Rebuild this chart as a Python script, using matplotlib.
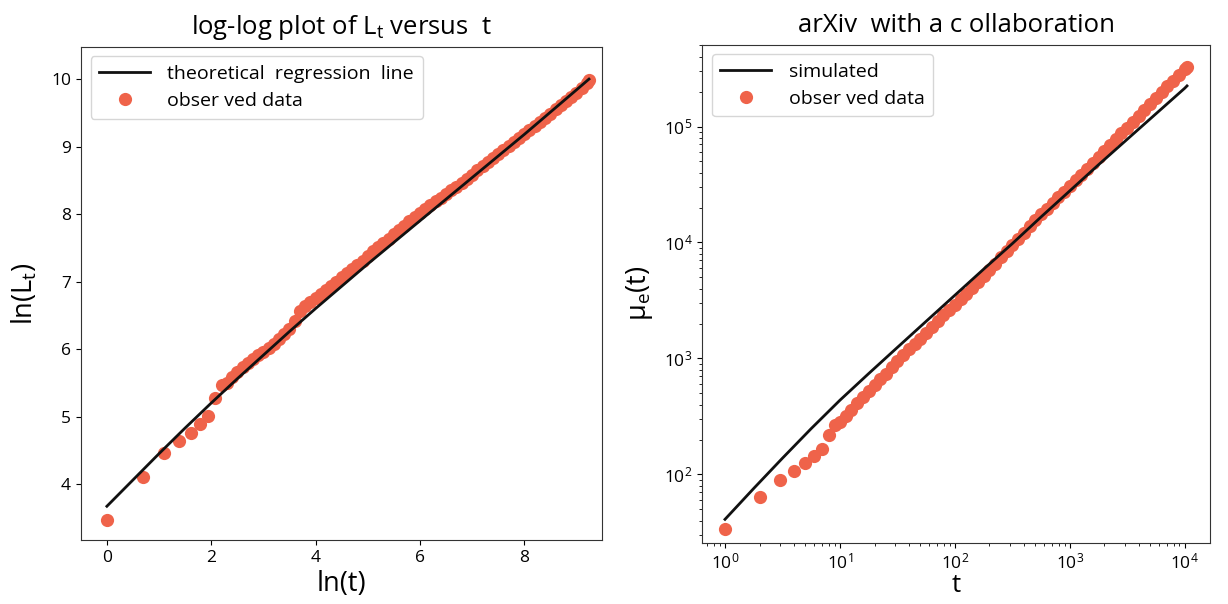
import numpy as np
import matplotlib
matplotlib.use("Agg")
import matplotlib.pyplot as plt

plt.rcParams['font.family'] = ['Open Sans', 'DejaVu Sans']
plt.rcParams['mathtext.default'] = 'regular'

# ---------------- left panel data (ln t, ln L_t) ----------------
left_obs_x = [0.000, 0.693, 1.099, 1.386, 1.609, 1.792, 1.946, 2.079, 2.197, 2.303,
              2.40, 2.50, 2.60, 2.70, 2.80, 2.90, 3.00, 3.10, 3.20, 3.30, 3.40, 3.50,
              3.60, 3.70, 3.80, 3.90, 4.00, 4.10, 4.20, 4.30, 4.40, 4.50, 4.60, 4.70,
              4.80, 4.90, 5.00, 5.10, 5.20, 5.30, 5.40, 5.50, 5.60, 5.70, 5.80, 5.90,
              6.00, 6.10, 6.20, 6.30, 6.40, 6.50, 6.60, 6.70, 6.80, 6.90, 7.00, 7.10,
              7.20, 7.30, 7.40, 7.50, 7.60, 7.70, 7.80, 7.90, 8.00, 8.10, 8.20, 8.30,
              8.40, 8.50, 8.60, 8.70, 8.80, 8.90, 9.00, 9.10, 9.20, 9.24]
left_obs_y = [3.46, 4.10, 4.46, 4.64, 4.76, 4.89, 5.01, 5.28, 5.46, 5.50,
              5.58, 5.66, 5.73, 5.79, 5.85, 5.91, 5.96, 6.02, 6.08, 6.15, 6.22, 6.30,
              6.42, 6.56, 6.64, 6.70, 6.76, 6.82, 6.88, 6.94, 7.00, 7.07, 7.13, 7.19,
              7.25, 7.31, 7.38, 7.45, 7.51, 7.57, 7.63, 7.70, 7.76, 7.82, 7.89, 7.95,
              8.01, 8.07, 8.13, 8.19, 8.24, 8.30, 8.35, 8.40, 8.46, 8.52, 8.58, 8.65,
              8.71, 8.77, 8.83, 8.89, 8.95, 9.01, 9.07, 9.13, 9.19, 9.25, 9.31, 9.37,
              9.43, 9.49, 9.56, 9.62, 9.68, 9.74, 9.80, 9.87, 9.94, 9.98]
left_line_x = [0.0, 0.5, 1.0, 1.5, 2.0, 2.5, 3.0, 3.5, 4.0, 4.5, 5.0, 5.5, 6.0,
               6.5, 7.0, 7.5, 8.0, 8.5, 9.0, 9.24]
left_line_y = [3.67, 4.06, 4.45, 4.83, 5.20, 5.56, 5.91, 6.26, 6.60, 6.93, 7.26,
               7.58, 7.90, 8.22, 8.54, 8.86, 9.18, 9.51, 9.84, 10.00]

# ---------------- right panel data (t, log10 mu_e(t)) ----------------
right_obs_t = [1, 2, 3, 4, 5, 6, 7, 8, 9,
               10, 11.2, 12.6, 14.1, 15.8, 17.8, 20, 22.4, 25.1, 28.2,
               31.6, 35.5, 39.8, 44.7, 50.1, 56.2, 63.1, 70.8, 79.4, 89.1,
               100, 112, 126, 141, 158, 178, 200, 224, 251, 282,
               316, 355, 398, 447, 501, 562, 631, 708, 794, 891,
               1000, 1122, 1259, 1413, 1585, 1778, 1995, 2239, 2512, 2818,
               3162, 3548, 3981, 4467, 5012, 5623, 6310, 7079, 7943, 8913,
               10000, 10470]
right_obs_log10_mu = [1.526, 1.804, 1.955, 2.032, 2.097, 2.160, 2.222, 2.336, 2.430,
                      2.450, 2.505, 2.560, 2.620, 2.670, 2.720, 2.770, 2.820, 2.870, 2.925,
                      2.978, 3.030, 3.080, 3.125, 3.172, 3.220, 3.270, 3.322, 3.372, 3.420,
                      3.465, 3.512, 3.560, 3.610, 3.660, 3.712, 3.764, 3.818, 3.872, 3.926,
                      3.980, 4.032, 4.085, 4.138, 4.190, 4.242, 4.292, 4.342, 4.390, 4.438,
                      4.485, 4.536, 4.586, 4.637, 4.687, 4.738, 4.789, 4.839, 4.890, 4.940,
                      4.991, 5.041, 5.092, 5.143, 5.193, 5.244, 5.294, 5.345, 5.395, 5.446,
                      5.497, 5.517]
right_line_t = [1, 1.78, 3.16, 5.62, 10, 17.8, 31.6, 56.2, 100, 178, 316, 562, 1000,
                1778, 3162, 5623, 10000, 10470]
right_line_log10_mu = [1.613, 1.880, 2.140, 2.395, 2.640, 2.870, 3.095, 3.320, 3.545,
                       3.770, 3.990, 4.220, 4.445, 4.670, 4.890, 5.110, 5.330, 5.350]

obs_color = '#ef634a'
line_color = '#111111'

fig = plt.figure(figsize=(12.28, 6.04), dpi=100)
ax1 = fig.add_axes([80.8 / 1228, 1 - 540 / 604, (601.5 - 80.8) / 1228, (540 - 46.7) / 604])
ax2 = fig.add_axes([702 / 1228, 1 - 543 / 604, (1210 - 702) / 1228, (543 - 44.5) / 604])

# left
ax1.plot(left_line_x, left_line_y, color=line_color, lw=2.0, zorder=3,
         label='theoretical  regression  line')
ax1.plot(left_obs_x, left_obs_y, 'o', color=obs_color, ms=9.5, mec='none', zorder=2,
         label='obser ved data')
ax1.set_xlim(-0.5, 9.48)
ax1.set_ylim(3.17, 10.48)
ax1.set_xticks([0, 2, 4, 6, 8])
ax1.set_yticks([4, 5, 6, 7, 8, 9, 10])
ax1.set_title('log-log plot of L$_t$ versus  t', fontsize=18.5, pad=9)
ax1.set_xlabel('ln(t)', fontsize=19.5, labelpad=3)
ax1.set_ylabel('ln(L$_t$)', fontsize=19.5, labelpad=8)
ax1.legend(loc='upper left', fontsize=14, handlelength=2.6, numpoints=1,
           borderpad=0.45, labelspacing=0.45, handletextpad=0.9, fancybox=True)

# right
ax2.plot(right_line_t, np.power(10.0, right_line_log10_mu), color=line_color, lw=2.0,
         zorder=3, label='simulated')
ax2.plot(right_obs_t, np.power(10.0, right_obs_log10_mu), 'o', color=obs_color, ms=9.5,
         mec='none', zorder=2, label='obser ved data')
ax2.set_xscale('log')
ax2.set_yscale('log')
ax2.set_xlim(10 ** -0.2, 10 ** 4.22)
ax2.set_ylim(10 ** 1.409, 10 ** 5.707)
ax2.set_title('arXiv  with a c ollaboration', fontsize=18.5, pad=9)
ax2.set_xlabel('t', fontsize=18.5, labelpad=0)
ax2.set_ylabel('μ$_e$(t)', fontsize=19.5, labelpad=6)
ax2.legend(loc='upper left', fontsize=14, handlelength=2.6, numpoints=1,
           borderpad=0.45, labelspacing=0.45, handletextpad=0.9, fancybox=True)

for ax in (ax1, ax2):
    ax.tick_params(labelsize=12.5)
    for s in ax.spines.values():
        s.set_color('#333333')

fig.savefig('out.png', dpi=100)
